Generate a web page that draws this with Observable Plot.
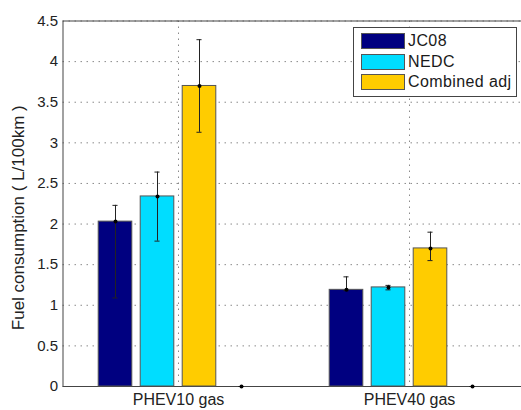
<!DOCTYPE html>
<html>
<head>
<meta charset="utf-8">
<script src="https://cdn.jsdelivr.net/npm/d3@7"></script>
<script src="https://cdn.jsdelivr.net/npm/@observablehq/plot@0.6"></script>
<style>
  html, body { margin: 0; padding: 0; background: #fff; overflow: hidden; }
  #wrap { position: relative; width: 521px; height: 410px; overflow: hidden; }
  #chart svg { max-width: none !important; display: block; }
  #legend { position: absolute; left: 353px; top: 27px; width: 162px; height: 68px;
            background: #fff; border: 1px solid #444; font-family: "Liberation Sans", Arial, sans-serif;
            font-size: 16px; color: #1a1a1a; letter-spacing: 0.4px; }
  .item { position: absolute; left: 7px; height: 16px; display: flex; align-items: center; }
  .sw { width: 42px; height: 14px; border: 1px solid #555; margin-right: 3px; }
</style>
</head>
<body>
<div id="wrap"><div id="chart"></div><div id="legend"></div></div>
<script>
// ---- data ----
const groups = ["PHEV10 gas", "PHEV40 gas"];
const series = ["JC08", "NEDC", "Combined adj", ""];
const seriesColors = ["#000080", "#00DDFF", "#FFCC00", "#800000"];
const jc08 = [2.03, 1.19];
const nedc = [2.34, 1.22];
const combined = [3.70, 1.70];
const fourth = [0, 0];
const jc08Low = [1.09, 1.18];
const jc08High = [2.23, 1.35];
const nedcLow = [1.79, 1.19];
const nedcHigh = [2.64, 1.245];
const combinedLow = [3.13, 1.55];
const combinedHigh = [4.27, 1.90];
const fourthLow = [0, 0];
const fourthHigh = [0, 0];
const yTicks = [0, 0.5, 1, 1.5, 2, 2.5, 3, 3.5, 4, 4.5];
const legendSeries = ["JC08", "NEDC", "Combined adj"];

// ---- table (MATLAB grouped-bar layout in data units) ----
const values = [jc08, nedc, combined, fourth];
const lows = [jc08Low, nedcLow, combinedLow, fourthLow];
const highs = [jc08High, nedcHigh, combinedHigh, fourthHigh];
const nS = series.length;
const groupWidth = Math.min(0.8, nS / (nS + 1.5));
const step = groupWidth / nS;
const barW = step * 0.8;
const capW = 0.011;
const rows = [];
groups.forEach((g, gi) => {
  series.forEach((s, si) => {
    const xc = gi + 1 + (si - (nS - 1) / 2) * step;
    rows.push({group: g, series: s, xc, x1: xc - barW / 2, x2: xc + barW / 2,
      cx1: xc - capW, cx2: xc + capW,
      value: values[si][gi], lo: lows[si][gi], hi: highs[si][gi],
      color: seriesColors[si], edge: si === 3 ? "#800000" : "#555"});
  });
});

const chart = Plot.plot({
  width: 530, height: 410,
  marginLeft: 62.5, marginRight: 5.5, marginTop: 20.5, marginBottom: 24,
  x: {type: "linear", domain: [0.5, 2.5]},
  y: {domain: [0, 4.5]},
  color: {type: "identity"},
  style: {fontFamily: "'Liberation Sans', Arial, sans-serif", color: "#222", background: "#fff"},
  marks: [
    Plot.gridY(yTicks, {stroke: "#8a8a8a", strokeOpacity: 1, strokeDasharray: "1.5,4.5"}),
    Plot.gridX([1, 2], {stroke: "#8a8a8a", strokeOpacity: 1, strokeDasharray: "1.5,4.5"}),
    Plot.frame({stroke: "#444"}),
    Plot.rect(rows, {x1: "x1", x2: "x2", y1: 0, y2: "value", fill: "color", stroke: "edge", strokeWidth: 1}),
    Plot.ruleX(rows, {x: "xc", y1: "lo", y2: "hi", stroke: "#222", strokeWidth: 1}),
    Plot.ruleY(rows, {y: "lo", x1: "cx1", x2: "cx2", stroke: "#222"}),
    Plot.ruleY(rows, {y: "hi", x1: "cx1", x2: "cx2", stroke: "#222"}),
    Plot.dot(rows, {x: "xc", y: "value", r: 2, fill: "#000", stroke: null}),
    Plot.axisY({ticks: yTicks, tickFormat: d => String(d), tickSize: 0, tickPadding: 5,
      fontSize: 15, label: null, style: {letterSpacing: "0.5px"}}),
    Plot.axisX({ticks: [1, 2], tickFormat: d => groups[d - 1], tickSize: 0, tickPadding: 7,
      fontSize: 16, label: null}),
    Plot.text(["Fuel consumption ( L/100km )"], {frameAnchor: "left", rotate: -90, dx: -44.5, dy: 14,
      fontSize: 17, textAnchor: "middle", fill: "#222"})
  ]
});
chart.style.maxWidth = "none";
document.getElementById("chart").appendChild(chart);

// legend
const leg = document.getElementById("legend");
legendSeries.forEach((s, i) => {
  const it = document.createElement("div");
  it.className = "item";
  it.style.top = (5 + i * 20.5) + "px";
  const sw = document.createElement("div");
  sw.className = "sw";
  sw.style.background = seriesColors[i];
  const t = document.createElement("span");
  t.textContent = s;
  it.appendChild(sw); it.appendChild(t);
  leg.appendChild(it);
});
</script>
</body>
</html>
